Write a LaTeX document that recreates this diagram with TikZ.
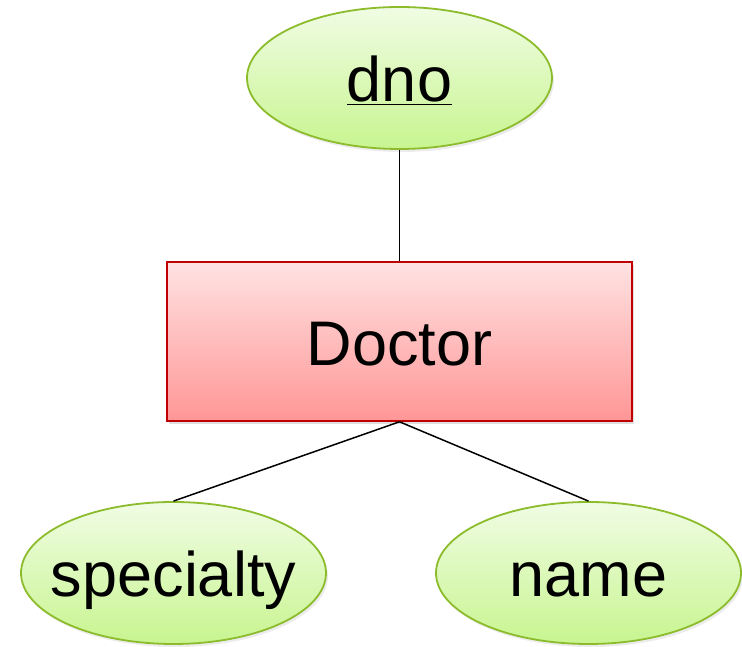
\documentclass[tikz,border=0pt]{standalone}
\usepackage{fontspec}
\setmainfont{Liberation Sans}
\usepackage{tikz}
\usetikzlibrary{shapes.geometric}
\usetikzlibrary{shadows}

\definecolor{attrtop}{HTML}{F0FCE4}
\definecolor{attrbot}{HTML}{C8F590}
\definecolor{attrline}{HTML}{8CBC2C}
\definecolor{enttop}{HTML}{FFE2E2}
\definecolor{entbot}{HTML}{FF9696}
\definecolor{entline}{HTML}{C00000}

\begin{document}
\begin{tikzpicture} [x=1pt, y=1pt,
  attr/.style={ellipse, draw=attrline, line width=1.8pt, top color=attrtop, bottom color=attrbot,
    minimum width=305pt, minimum height=142pt, inner sep=0pt, inner xsep=-30pt,
    font=\fontsize{63}{70}\selectfont, text height=57pt, text depth=9pt,
    drop shadow={shadow xshift=2pt, shadow yshift=-3pt, opacity=.15}},
  entity/.style={rectangle, draw=entline, line width=1.6pt, top color=enttop, bottom color=entbot,
    minimum width=465pt, minimum height=159pt, inner sep=0pt,
    font=\fontsize{63}{70}\selectfont, text height=57pt, text depth=9pt,
    drop shadow={shadow xshift=2pt, shadow yshift=-3pt, opacity=.25}},
  link/.style={black, line width=1.5pt}]
\useasboundingbox (0,0) rectangle (742,647);

\node[entity] (doctor) at (399.5,305.5) {Doctor};
\node[attr] (dno) at (399.5,569) {\underline{dno}};
\node[attr] (specialty) at (173.5,74) {specialty};
\node[attr] (name) at (588.5,74) {name};

\draw[link] (dno.south)--(doctor.north);
\draw[link] (doctor.south)--(specialty.north);
\draw[link] (doctor.south)--(name.north);

\end{tikzpicture}
\end{document}
